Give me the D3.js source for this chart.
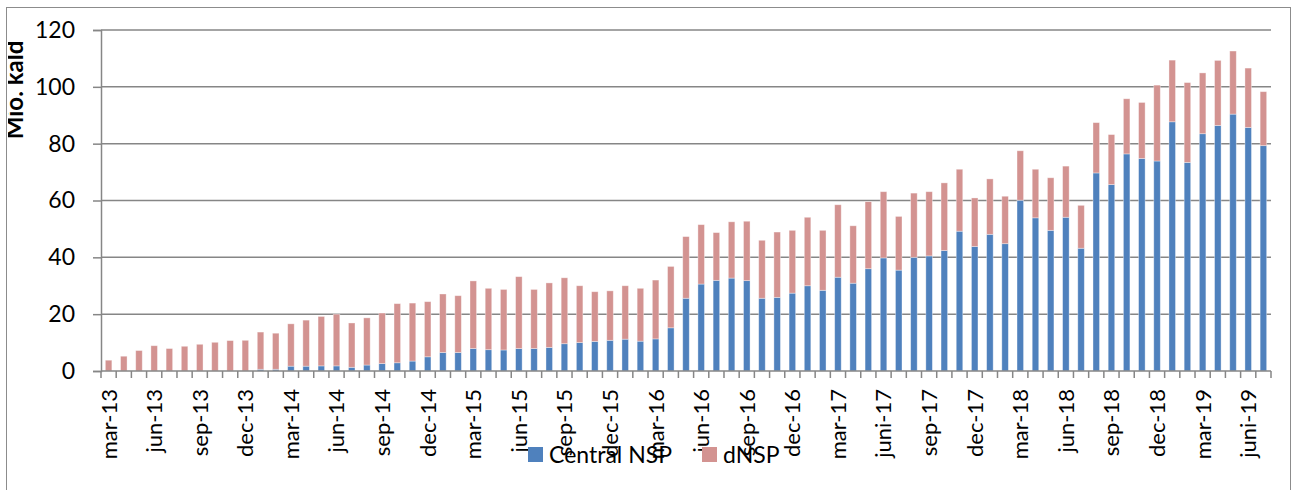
<!DOCTYPE html>
<html><head><meta charset="utf-8">
<script src="https://cdn.jsdelivr.net/npm/d3@7"></script>
<style>
body{margin:0;background:#fff;}
svg{display:block;font-family:Lato, "Open Sans", sans-serif;}
</style></head>
<body>
<svg id="chart" width="1292" height="490"></svg>
<script>
const categories = [
"mar-13","apr-13","maj-13","jun-13","jul-13","aug-13","sep-13","okt-13","nov-13","dec-13",
"jan-14","feb-14","mar-14","apr-14","maj-14","jun-14","jul-14","aug-14","sep-14","okt-14","nov-14","dec-14",
"jan-15","feb-15","mar-15","apr-15","maj-15","jun-15","jul-15","aug-15","sep-15","okt-15","nov-15","dec-15",
"jan-16","feb-16","mar-16","apr-16","maj-16","jun-16","jul-16","aug-16","sep-16","okt-16","nov-16","dec-16",
"jan-17","feb-17","mar-17","apr-17","maj-17","juni-17","jul-17","aug-17","sep-17","okt-17","nov-17","dec-17",
"jan-18","feb-18","mar-18","apr-18","maj-18","jun-18","jul-18","aug-18","sep-18","okt-18","nov-18","dec-18",
"jan-19","feb-19","mar-19","apr-19","maj-19","juni-19","jul-19"];
const centralNSP = [
0,0,0,0,0,0,0,0,0,0,
0.6,0.6,1.7,1.7,1.8,1.8,1.3,2.1,2.6,2.9,3.5,5.0,
6.5,6.5,7.9,7.5,7.4,7.9,7.9,8.3,9.6,10.0,10.4,10.8,
11.2,10.5,11.3,15.2,25.6,30.6,31.9,32.7,31.8,25.6,25.9,27.4,
30.0,28.4,33.0,30.9,36.0,39.8,35.5,40.0,40.5,42.4,49.2,43.8,
48.1,44.8,60.1,53.9,49.5,54.1,43.2,69.7,65.6,76.4,74.8,73.9,
87.7,73.4,83.5,86.4,90.4,85.7,79.3];
const dNSP = [
3.8,5.2,7.2,8.9,7.9,8.7,9.4,10.1,10.7,10.8,
13.1,12.7,14.9,16.2,17.4,18.2,15.6,16.6,17.8,20.8,20.4,19.4,
20.6,20.0,23.8,21.6,21.3,25.3,20.8,22.7,23.2,20.0,17.5,17.4,
18.8,18.6,20.7,21.6,21.7,20.9,16.8,19.8,20.9,20.4,23.0,22.1,
24.1,21.1,25.5,20.2,23.6,23.3,18.9,22.6,22.6,23.8,21.8,17.1,
19.5,16.7,17.4,17.1,18.5,18.0,15.1,17.7,17.6,19.4,19.7,26.7,
21.7,28.1,21.4,22.9,22.2,20.9,19.0];
const yTicks = [0,20,40,60,80,100,120];
const seriesNames = ["Central NSP","dNSP"];
const colors = ["#4F81BD","#D39391"];
const yTitle = "Mio. kald";

const svg = d3.select("#chart");
const L = 101, R = 1271, T = 30, B = 371;

// outer border
svg.append("rect").attr("x",6.5).attr("y",7.5).attr("width",1284).attr("height",490)
  .attr("fill","#fff").attr("stroke","#8c8c8c").attr("stroke-width",1);

const x = d3.scaleBand().domain(categories).range([L,R]).paddingInner(0.57).paddingOuter(0.285);
const y = d3.scaleLinear().domain([0,120]).range([B,T]);

// gridlines
svg.append("g").selectAll("line").data(yTicks.filter(d=>d>0)).join("line")
  .attr("x1",L).attr("x2",R).attr("y1",d=>y(d)).attr("y2",d=>y(d))
  .attr("stroke","#868686").attr("stroke-width",1.5);

// stacked bars
const rows = categories.map((c,i)=>({cat:c, "Central NSP":centralNSP[i], "dNSP":dNSP[i]}));
const stack = d3.stack().keys(seriesNames)(rows);
svg.append("g").selectAll("g").data(stack).join("g")
  .attr("fill",(d,i)=>colors[i])
  .selectAll("rect").data(d=>d).join("rect")
  .attr("x",d=>x(d.data.cat)).attr("width",x.bandwidth())
  .attr("y",d=>y(d[1])).attr("height",d=>Math.max(0,y(d[0])-y(d[1])))
  .attr("stroke","rgba(255,255,255,0.45)").attr("stroke-width",0.8);

// y axis
const yAxis = svg.append("g").attr("transform",`translate(${L},0)`)
  .call(d3.axisLeft(y).tickValues(yTicks).tickSize(8).tickPadding(18));
yAxis.select(".domain").attr("stroke","#868686").attr("stroke-width",1.5);
yAxis.selectAll(".tick line").attr("stroke","#868686").attr("stroke-width",1.5);
yAxis.selectAll(".tick text").attr("font-size",23).attr("fill","#000").attr("font-family","Lato");

// x axis baseline and tick marks at category boundaries
svg.append("line").attr("x1",L).attr("x2",R).attr("y1",B).attr("y2",B)
  .attr("stroke","#868686").attr("stroke-width",1.5);
const bounds = categories.map(c=>x(c)+x.bandwidth()/2-x.step()/2).concat([R]);
svg.append("g").selectAll("line").data(bounds).join("line")
  .attr("x1",d=>d).attr("x2",d=>d).attr("y1",B).attr("y2",B+7)
  .attr("stroke","#868686").attr("stroke-width",1.5);

// x labels (every third month)
const xAxis = svg.append("g").attr("transform",`translate(0,${B})`)
  .call(d3.axisBottom(x).tickValues(categories.filter((c,i)=>i%3===0)).tickSize(0));
xAxis.select(".domain").remove();
xAxis.selectAll(".tick text")
  .attr("font-size",22).attr("fill","#000").attr("font-family","Lato")
  .attr("text-anchor","end").attr("transform","rotate(-90)")
  .attr("x",-18).attr("y",0).attr("dy","0.36em");

// y title (clipped at left border)
svg.append("clipPath").attr("id","clipT").append("rect").attr("x",8).attr("y",8).attr("width",100).attr("height",400);
svg.append("g").attr("clip-path","url(#clipT)")
  .append("text").attr("transform","translate(23,90) rotate(-90)")
  .attr("text-anchor","middle").attr("font-weight","bold").attr("font-size",24)
  .attr("font-family","Lato").attr("fill","#000").text(yTitle);

// legend
const legX = [528, 702];
const leg = svg.append("g").selectAll("g").data(seriesNames).join("g")
  .attr("transform",(d,i)=>`translate(${legX[i]},447)`);
leg.append("rect").attr("width",15).attr("height",15).attr("fill",(d,i)=>colors[i]);
leg.append("text").attr("x",21).attr("y",7.5).attr("dy","0.36em")
  .attr("font-size",23).attr("font-family","Lato").attr("fill","#000").text(d=>d);
</script>
</body></html>
